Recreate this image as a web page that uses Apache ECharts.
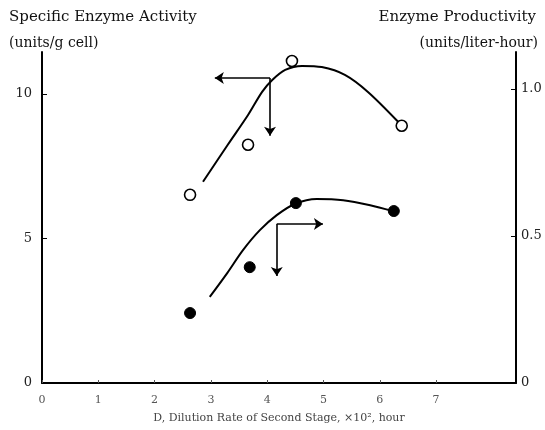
<!DOCTYPE html>
<html>
<head>
<meta charset="utf-8">
<script src="https://cdn.jsdelivr.net/npm/echarts@6/dist/echarts.min.js"></script>
<style>html,body{margin:0;padding:0;background:#fff;}#c{width:545px;height:430px;}</style>
</head>
<body>
<div id="c"></div>
<script>
// ---- data ----
const xTickValues = [0, 1, 2, 3, 4, 5, 6, 7];
const leftTickValues = [0, 5, 10];
const rightTickValues = [0, 0.5, 1.0];
// Specific enzyme activity (open circles, left axis)
const activityX = [2.63, 3.66, 4.44, 6.39];
const activityY = [6.51, 8.24, 11.14, 8.90];
// fitted curve for activity
const activityCurveX = [2.86, 3.30, 3.66, 3.91, 4.09, 4.32, 4.62, 4.97, 5.38, 5.79, 6.33];
const activityCurveY = [6.96, 8.24, 9.27, 10.07, 10.48, 10.83, 10.97, 10.93, 10.66, 10.07, 9.03];
// Enzyme productivity (filled circles, right axis)
const productivityX = [2.63, 3.69, 4.51, 6.25];
const productivityY = [0.238, 0.394, 0.612, 0.585];
// fitted curve for productivity
const productivityCurveX = [2.98, 3.29, 3.57, 3.87, 4.17, 4.49, 4.88, 5.35, 5.83, 6.23];
const productivityCurveY = [0.293, 0.374, 0.452, 0.520, 0.571, 0.609, 0.626, 0.622, 0.605, 0.585];
// annotation arrows (data coords on left axis): [from, to]
const arrowsLeft = [
  [[4.05, 10.55], [3.07, 10.55]],
  [[4.05, 10.55], [4.05, 8.55]],
  [[4.17, 5.50], [4.99, 5.50]],
  [[4.17, 5.50], [4.17, 3.70]]
];

const zip = (a, b) => a.map((v, i) => [v, b[i]]);
const serif = '"DejaVu Serif", "Liberation Serif", serif';

const chart = echarts.init(document.getElementById('c'), null, {renderer: 'canvas'});
chart.setOption({
  animation: false,
  backgroundColor: '#ffffff',
  title: [
    {text: 'Specific Enzyme Activity', left: 4, top: 5, textStyle: {fontFamily: serif, fontSize: 15, fontWeight: 'normal', color: '#111'}},
    {text: '(units/g cell)', left: 4, top: 31, textStyle: {fontFamily: serif, fontSize: 14, fontWeight: 'normal', color: '#111'}},
    {text: 'Enzyme Productivity', right: 4, top: 5, textStyle: {fontFamily: serif, fontSize: 15, fontWeight: 'normal', color: '#111'}},
    {text: '(units/liter-hour)', right: 2, top: 31, textStyle: {fontFamily: serif, fontSize: 14, fontWeight: 'normal', color: '#111'}}
  ],
  grid: {left: 42, right: 29, top: 52, bottom: 47, containLabel: false},
  xAxis: {
    type: 'value', min: 0, max: 8.42, interval: 1,
    name: 'D, Dilution Rate of Second Stage, \u00d710\u00b2, hour',
    nameLocation: 'middle', nameGap: 30,
    nameTextStyle: {fontFamily: serif, fontSize: 11, color: '#444'},
    axisLine: {show: true, lineStyle: {color: '#000', width: 2}},
    axisTick: {show: true, inside: true, length: 3, lineStyle: {color: '#555', width: 1}, customValues: xTickValues},
    axisLabel: {fontFamily: serif, fontSize: 11, color: '#555', margin: 12, customValues: xTickValues},
    splitLine: {show: false}
  },
  yAxis: [
    {
      type: 'value', min: 0, max: 11.45, interval: 5, position: 'left',
      axisLine: {show: true, lineStyle: {color: '#000', width: 2}},
      axisTick: {show: true, inside: true, length: 5, lineStyle: {color: '#000'}, customValues: leftTickValues},
      axisLabel: {fontFamily: serif, fontSize: 13, color: '#222', margin: 10, customValues: leftTickValues},
      splitLine: {show: false}
    },
    {
      type: 'value', min: 0, max: 1.126, interval: 0.5, position: 'right',
      axisLine: {show: true, lineStyle: {color: '#000', width: 2}},
      axisTick: {show: true, inside: true, length: 5, lineStyle: {color: '#000'}, customValues: rightTickValues},
      axisLabel: {fontFamily: serif, fontSize: 13, color: '#222', margin: 5, customValues: rightTickValues,
        formatter: v => (v === 0 ? '0' : v.toFixed(1))},
      splitLine: {show: false}
    }
  ],
  series: [
    {
      type: 'line', yAxisIndex: 0, smooth: 0.3, showSymbol: false, symbol: 'none',
      data: zip(activityCurveX, activityCurveY),
      lineStyle: {color: '#000', width: 2}, z: 2
    },
    {
      type: 'line', yAxisIndex: 1, smooth: 0.3, showSymbol: false, symbol: 'none',
      data: zip(productivityCurveX, productivityCurveY),
      lineStyle: {color: '#000', width: 2}, z: 2
    },
    {
      type: 'scatter', yAxisIndex: 0, symbol: 'circle', symbolSize: 11,
      data: zip(activityX, activityY),
      itemStyle: {color: '#fff', borderColor: '#000', borderWidth: 1.6, opacity: 1}, z: 5
    },
    {
      type: 'scatter', yAxisIndex: 1, symbol: 'circle', symbolSize: 11,
      data: zip(productivityX, productivityY),
      itemStyle: {color: '#000', borderColor: '#000', borderWidth: 1, opacity: 1}, z: 5
    },
    {
      type: 'lines', coordinateSystem: 'cartesian2d', xAxisIndex: 0, yAxisIndex: 0,
      symbol: ['none', 'arrow'], symbolSize: 9,
      lineStyle: {color: '#000', width: 1.6, opacity: 1},
      data: arrowsLeft.map(a => ({coords: a})), z: 4
    }
  ]
});
</script>
</body>
</html>
